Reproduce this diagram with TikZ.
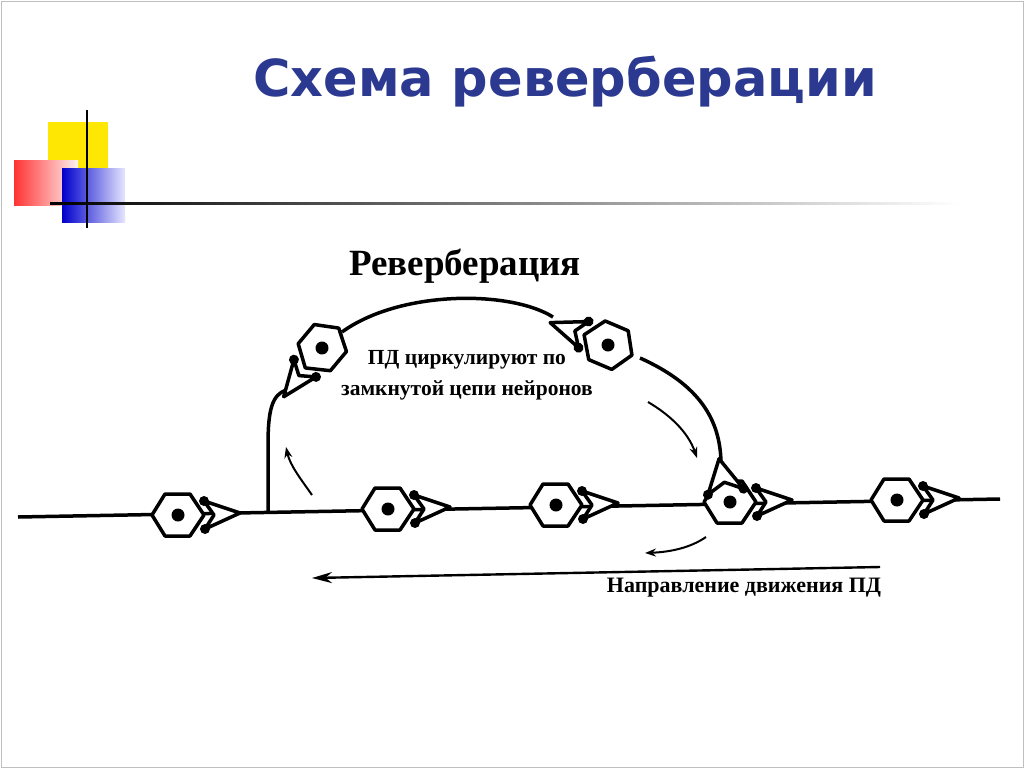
\documentclass[tikz,border=0pt]{standalone}
\usepackage{fontspec}
\setmainfont{Liberation Serif}
\newfontfamily\titlefont{DejaVu Sans}
\usetikzlibrary{arrows.meta}
\definecolor{ttl}{HTML}{2B3990}
\tikzset{
  ln/.style={line width=3.5pt,line join=round},
  neuron/.pic={
    \draw[ln,fill=white] (-26,0)--(-13,-21)--(12,-21)--(26,0)--(12,21)--(-13,21)--cycle;
    \fill (0,0) circle (6.5);
    \draw[ln,fill=white] (26,-14)--(62,-2)--(27,14)--(36,0)--cycle;
    \fill (26,-14) circle (5) (27,14) circle (5);
  },
  syn/.pic={
    \draw[ln,fill=white] (16,-18)--(50,-2)--(17,18)--(26,0)--cycle;
    \fill (16,-18) circle (5) (17,18) circle (5);
  },
  carr/.style={line width=2pt,-{Stealth[length=11pt,width=8pt]}},
}
\begin{document}
\begin{tikzpicture}[x=1pt,y=-1pt]
\useasboundingbox (0,0) rectangle (1024,768);
\fill[white] (0,0) rectangle (1024,768);
\draw[gray!50] (1,1) rectangle (1023,767);
% decoration
\fill[yellow!90!orange] (48,122) rectangle (108,172);
\shade[left color=red!80, right color=red!5] (14,160) rectangle (78,205);
\shade[left color=blue!80!black, right color=blue!10] (62,168) rectangle (125,222);
\draw[line width=1.5pt] (87,110) -- (87,228);
\shade[left color=black, right color=white] (50,202) rectangle (960,204.5);
\node[font=\titlefont\bfseries\fontsize{51}{60}\selectfont,text=ttl] (title) at (565,82) {Схема реверберации};
\node[font=\bfseries\fontsize{37}{42}\selectfont] (rev) at (465,266) {Реверберация};
\node[font=\bfseries\fontsize{21.5}{31}\selectfont,align=center] (txt) at (467,375) {ПД циркулируют по\\замкнутой цепи нейронов};
% main line
\coordinate (L0) at (18,517);
\coordinate (L1) at (1000,499);
\draw[ln] (L0) -- (L1);
% loop
\coordinate (J) at (268,512);
\draw[ln] (J) -- (268,445) .. controls (268,410) and (272,395) .. (286,390);
\draw[ln] (342,332) .. controls (400,290) and (510,290) .. (553,317);
\draw[ln] (640,358) .. controls (700,385) and (720,420) .. (721,462);
\pic at (178,515) {neuron};
\pic at (388,509) {neuron};
\pic at (556,505) {neuron};
\pic at (730,502) {neuron};
\pic at (897,500) {neuron};
\pic[rotate=-130] at (322,348) {neuron};
\pic[rotate=-203] at (608,345) {neuron};
\pic[rotate=-262] at (728,508) {syn};
% arrows
\draw[carr] (312,495) .. controls (300,478) and (290,465) .. (286,447);
\draw[carr] (648,402) .. controls (670,415) and (688,432) .. (697,458);
\draw[carr] (706,537) .. controls (690,548) and (670,552) .. (645,553);
\draw[line width=2.4pt,-{Stealth[length=20pt,width=11pt]}] (880,567) -- (312,578);
\node[font=\bfseries\fontsize{22}{26}\selectfont] (dir) at (744,588) {Направление движения ПД};
\end{tikzpicture}
\end{document}
